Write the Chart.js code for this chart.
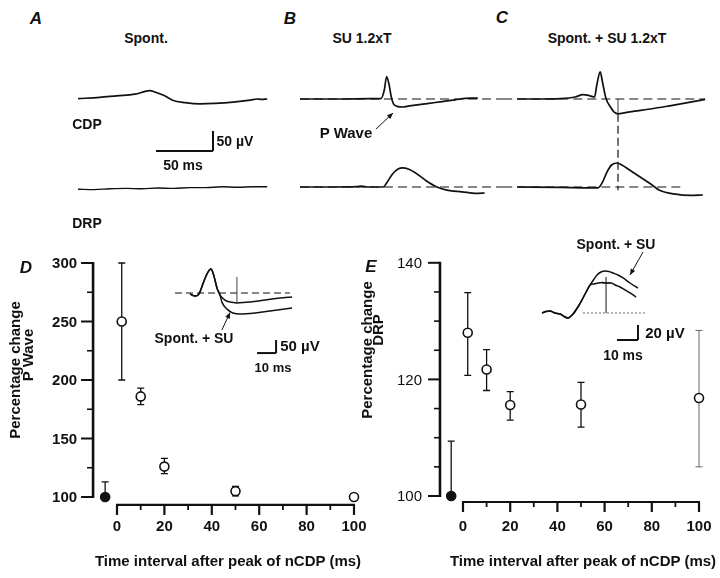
<!DOCTYPE html>
<html>
<head>
<meta charset="utf-8">
<script src="https://cdn.jsdelivr.net/npm/chart.js@4.4.1/dist/chart.umd.min.js"></script>
<style>
  body { margin: 0; background: #fff; }
  #fig { position: relative; width: 720px; height: 578px; overflow: hidden;
         font-family: "Liberation Sans", Arial, Helvetica, sans-serif; font-weight: bold; color: #111; }
  #fig canvas { position: absolute; }
  .lbl { position: absolute; white-space: nowrap; line-height: 1; transform: translate(-50%, -50%); }
</style>
</head>
<body>
<div id="fig"></div>
<script>
// ---- A/B/C traces: time (ms) vs amplitude (µV) ----
const aCdpT = [0, 19, 34, 50, 59, 63, 68, 76, 83, 94, 107, 120, 136, 151, 157, 161, 166];
const aCdpV = [1, 4, 8, 12, 19, 21, 17, 8, -3, -9, -12, -11, -8, -3, 0, -1, 0];
const aDrpT = [0, 14, 28, 42, 56, 70, 84, 98, 112, 126, 140, 154, 166];
const aDrpV = [-3, -4, -2, -1, -2, 0, -1, 1, 1, 3, 2, 3, 3];

const bCdpT = [0, 35, 61, 71, 74, 76, 78, 80, 82, 86, 90, 96, 110, 123, 136, 149, 156];
const bCdpV = [0, 0, 1, 1, 23, 56, 38, 6, -12, -19, -20, -17, -12, -7, -2, 2, 2];
const bDrpT = [0, 28, 50, 54, 59, 73, 76, 81, 86, 90, 95, 103, 111, 120, 129, 142, 155, 162];
const bDrpV = [0, 0, 1, 2, 0, 0, 10, 32, 45, 48, 45, 32, 15, 0, -8, -12, -16, -15];

const cCdpT = [0, 20, 38, 51, 58, 64, 68, 70, 73, 75, 78, 82, 85, 89, 99, 117, 134, 152, 165];
const cCdpV = [0, 0, 1, 5, 11, 8, 5, 35, 68, 42, 2, -20, -32, -37, -32, -25, -17, -8, -1];
const cDrpT = [0, 38, 64, 71, 75, 79, 83, 88, 92, 99, 108, 117, 125, 139, 152, 163];
const cDrpV = [0, -1, -2, -2, 12, 38, 55, 60, 55, 42, 25, 8, -8, -18, -21, -20];
const cPeakT = 88.6;

// ---- D: P wave, % change ----
const dX = [-5, 2, 10, 20, 50, 100];
const dY = [100, 250, 186, 126, 105, 100];
const dLo = [100, 200, 179, 120, 101, 100];
const dHi = [113, 300, 193, 133, 109, 100];
const dYTicks = [100, 150, 200, 250, 300];
const dXTicks = [0, 20, 40, 60, 80, 100];

// ---- E: DRP, % change ----
const eX = [-5, 2, 10, 20, 50, 100];
const eY = [100, 128, 121.7, 115.6, 115.7, 116.8];
const eLo = [100, 120.7, 118.1, 113, 111.8, 105];
const eHi = [109.4, 134.9, 125.1, 117.9, 119.5, 128.4];
const eYTicks = [100, 120, 140];
const eXTicks = [0, 20, 40, 60, 80, 100];

// ---- insets (ms, µV) ----
const dInsT = [0, 2.6, 4.7, 6.8, 8.9, 11.1, 12.6, 14.2, 15.8, 18.4, 21.1, 24.7, 31.6, 39.5, 47.4, 53.7];
const dInsCtl = [-4, -12, -4, 35, 73, 92, 65, 19, -8, -27, -35, -38, -35, -27, -19, -15];
const dInsT2 = [0, 2.6, 4.7, 6.8, 8.9, 11.1, 12.6, 14.2, 15.8, 16.8, 19.5, 22.6, 26.3, 34.2, 42.1, 53.7];
const dInsCond = [-4, -12, -4, 35, 73, 92, 65, 19, -8, -35, -62, -77, -81, -77, -69, -58];

const eInsT = [0, 1.9, 3.8, 6.2, 8.6, 11, 12.4, 14.8, 17.1, 19, 21, 22.9, 24.8, 26.2, 28.1, 30, 31.9, 33.8, 36.2, 38.6, 41.9, 45.7];
const eInsCond = [0, 2, 2.7, 0, -1.3, -5.3, -6.7, -1.3, 8, 17.3, 28, 37.3, 45.3, 50.7, 54.7, 56, 55.3, 53.3, 50.7, 46.7, 40, 33.3];
const eInsT2 = [0, 1.9, 3.8, 6.2, 8.6, 11, 12.4, 14.8, 17.1, 19, 21, 22.9, 24.8, 26.7, 28.6, 31, 32.9, 34.8, 37.1, 39.5, 41.9, 44.8];
const eInsCtl = [0, 2, 2.7, 0, -1.3, -5.3, -6.7, -1.3, 8, 17.3, 28, 37.3, 38.7, 40, 40.7, 40, 40, 37.3, 34.7, 30.7, 26.7, 21.3];

const INK = '#111';
const FONT = '"Liberation Sans", Arial, Helvetica, sans-serif';
const fig = document.getElementById('fig');

function zip(T, V) { return T.map((t, i) => ({ x: t, y: V[i] })); }

// scale ranges so that value zeroVal sits at page pixel zeroPx
function xAxis(box, zeroPx, k, zeroVal = 0) {
  return { type: 'linear', display: false,
    min: zeroVal + (box.left - zeroPx) / k, max: zeroVal + (box.left + box.width - zeroPx) / k };
}
function yAxis(box, zeroPx, k, zeroVal = 0) {
  return { type: 'linear', display: false,
    min: zeroVal - (box.top + box.height - zeroPx) / k, max: zeroVal + (zeroPx - box.top) / k };
}

function trace(T, V, yId, extra) {
  return Object.assign({ data: zip(T, V), yAxisID: yId, xAxisID: 'x', borderColor: INK, borderWidth: 1.7,
    pointRadius: 0, cubicInterpolationMode: 'monotone' }, extra || {});
}
function baseline(t0, t1, yId, extra) {
  return Object.assign({ data: [{ x: t0, y: 0 }, { x: t1, y: 0 }], yAxisID: yId, xAxisID: 'x', borderColor: INK,
    borderWidth: 1.2, borderDash: [9, 5], pointRadius: 0 }, extra || {});
}

function P(x, y, xa, ya) { return { x, y, xa: xa || 'x', ya: ya || 'y' }; }

// detached axes with outward ticks, as straight segments in data units (kx, ky: px per unit)
function axisSegments(f, kx, ky) {
  const yT = f.yTicks, xT = f.xTicks, out = [];
  out.push({ a: P(f.yAt, yT[0] - 1 / ky), b: P(f.yAt, yT[yT.length - 1] + 1 / ky), width: 2.6 });
  out.push({ a: P(xT[0] - 1 / kx, f.xAt), b: P(xT[xT.length - 1] + 1 / kx, f.xAt), width: 2.2 });
  for (let v = yT[0]; v <= yT[yT.length - 1] + 1e-9; v += f.yMinor) {
    const major = yT.indexOf(Math.round(v)) >= 0;
    out.push({ a: P(f.yAt - (major ? 12 : 6) / kx, v), b: P(f.yAt, v), width: major ? 2 : 1.6 });
  }
  for (let v = xT[0]; v <= xT[xT.length - 1] + 1e-9; v += f.xMinor) {
    const major = xT.indexOf(Math.round(v)) >= 0;
    out.push({ a: P(v, f.xAt), b: P(v, f.xAt - (major ? 10 : 5) / ky), width: major ? 2.2 : 1.8 });
  }
  return out;
}

// straight segments/arrows drawn through the chart scales
function makeGuides(items) {
  return {
    id: 'guides',
    afterDraw(chart) {
      const ctx = chart.ctx;
      const pix = p => [chart.scales[p.xa].getPixelForValue(p.x), chart.scales[p.ya].getPixelForValue(p.y)];
      items.forEach(g => {
        const a = pix(g.a), b = pix(g.b);
        ctx.save();
        ctx.strokeStyle = g.color || INK; ctx.fillStyle = g.color || INK;
        ctx.lineWidth = g.width || 1; ctx.setLineDash(g.dash || []);
        ctx.beginPath(); ctx.moveTo(a[0], a[1]); ctx.lineTo(b[0], b[1]); ctx.stroke();
        if (g.head) {
          const ang = Math.atan2(b[1] - a[1], b[0] - a[0]);
          ctx.setLineDash([]);
          ctx.beginPath();
          ctx.moveTo(b[0], b[1]);
          ctx.lineTo(b[0] - 6 * Math.cos(ang) + 2.5 * Math.sin(ang), b[1] - 6 * Math.sin(ang) - 2.5 * Math.cos(ang));
          ctx.lineTo(b[0] - 6 * Math.cos(ang) - 2.5 * Math.sin(ang), b[1] - 6 * Math.sin(ang) + 2.5 * Math.cos(ang));
          ctx.closePath(); ctx.fill();
        }
        ctx.restore();
      });
    }
  };
}

// tick labels for the detached axes
function makeTickLabels(f) {
  return {
    id: 'ticklabels',
    afterDraw(chart) {
      const ctx = chart.ctx, xs = chart.scales.x, ys = chart.scales.y;
      const ax = xs.getPixelForValue(f.yAt), ay = ys.getPixelForValue(f.xAt);
      ctx.save();
      ctx.fillStyle = INK;
      ctx.font = f.yFont; ctx.textAlign = 'right'; ctx.textBaseline = 'middle';
      f.yTicks.forEach(v => ctx.fillText(String(v), ax - f.yGap, ys.getPixelForValue(v) + 1));
      ctx.font = f.xFont; ctx.textAlign = 'center';
      f.xTicks.forEach(v => ctx.fillText(String(v), xs.getPixelForValue(v), ay + f.xGap));
      ctx.restore();
    }
  };
}

function makeErrBars(X, lo, hi, colors, widths) {
  return {
    id: 'errbars',
    beforeDatasetsDraw(chart) {
      const ctx = chart.ctx, xs = chart.scales.x, ys = chart.scales.y;
      X.forEach((x, i) => {
        if (hi[i] === lo[i]) return;
        const px = xs.getPixelForValue(x), y1 = ys.getPixelForValue(lo[i]), y2 = ys.getPixelForValue(hi[i]);
        ctx.save();
        ctx.strokeStyle = colors[i]; ctx.lineWidth = widths[i];
        ctx.beginPath();
        ctx.moveTo(px, y1); ctx.lineTo(px, y2);
        ctx.moveTo(px - 3.5, y2); ctx.lineTo(px + 3.5, y2);
        ctx.moveTo(px - 3.5, y1); ctx.lineTo(px + 3.5, y1);
        ctx.stroke();
        ctx.restore();
      });
    }
  };
}

function makeChart(box, datasets, scales, plugins) {
  const c = document.createElement('canvas');
  c.width = box.width; c.height = box.height;
  c.style.left = box.left + 'px'; c.style.top = box.top + 'px';
  fig.appendChild(c);
  return new Chart(c.getContext('2d'), {
    type: 'line',
    data: { datasets },
    options: {
      responsive: false, animation: false, devicePixelRatio: 1, events: [],
      layout: { padding: 0, autoPadding: false },
      plugins: { legend: { display: false }, tooltip: { enabled: false } },
      scales
    },
    plugins: plugins || []
  });
}

// ---------- panel A ----------
const boxA = { left: 60, top: 50, width: 230, height: 165 };
const barA = { t: 68.4, v: -130 };
makeChart(boxA,
  [trace(aCdpT, aCdpV, 'cdp'), trace(aDrpT, aDrpV, 'drp', { borderWidth: 1.4 })],
  { x: xAxis(boxA, 78, 1.14), cdp: yAxis(boxA, 99, 0.4), drp: yAxis(boxA, 188, 0.4) },
  [makeGuides([
    { a: P(barA.t, barA.v, 'x', 'cdp'), b: P(barA.t + 50, barA.v, 'x', 'cdp'), width: 2 },
    { a: P(barA.t + 50, barA.v, 'x', 'cdp'), b: P(barA.t + 50, barA.v + 50, 'x', 'cdp'), width: 2 }
  ])]);

// ---------- panel B ----------
const boxB = { left: 290, top: 50, width: 215, height: 165 };
makeChart(boxB,
  [baseline(0, 200, 'cdp'), baseline(0, 200, 'drp'), trace(bCdpT, bCdpV, 'cdp'), trace(bDrpT, bDrpV, 'drp')],
  { x: xAxis(boxB, 300, 1.14), cdp: yAxis(boxB, 99, 0.4), drp: yAxis(boxB, 187, 0.4) },
  [makeGuides([
    { a: P(66.7, -75, 'x', 'cdp'), b: P(81.6, -35, 'x', 'cdp'), width: 1, head: true }
  ])]);

// ---------- panel C ----------
const boxC = { left: 505, top: 50, width: 215, height: 165 };
makeChart(boxC,
  [baseline(-12, 165, 'cdp'), baseline(-12, 147, 'drp'), trace(cCdpT, cCdpV, 'cdp'), trace(cDrpT, cDrpV, 'drp')],
  { x: xAxis(boxC, 517, 1.14), cdp: yAxis(boxC, 99, 0.4), drp: yAxis(boxC, 187, 0.4) },
  [makeGuides([
    { a: P(cPeakT, 0, 'x', 'cdp'), b: P(cPeakT, -37, 'x', 'cdp'), width: 0.8 },
    { a: P(cPeakT, -37, 'x', 'cdp'), b: P(cPeakT, -8, 'x', 'drp'), width: 1.2, dash: [8, 4] }
  ])]);

// ---------- panel D ----------
const boxD = { left: 0, top: 250, width: 375, height: 328 };
const frameD = { yAt: -10.1, xAt: 93.2, yTicks: dYTicks, yMinor: 25, xTicks: dXTicks, xMinor: 10,
  yFont: 'bold 15px ' + FONT, xFont: 'bold 15px ' + FONT, yGap: 16, xGap: 22 };
makeChart(boxD,
  [
    { data: zip(dX, dY), showLine: false, pointRadius: 4.5, pointBorderWidth: 1.6, pointBorderColor: INK,
      pointBackgroundColor: dX.map((x, i) => i === 0 ? INK : '#fff'), xAxisID: 'x', yAxisID: 'y' },
    baseline(-7.9, 52.6, 'iy', { xAxisID: 'ix', borderDash: [7, 4], borderWidth: 1.1 }),
    trace(dInsT, dInsCtl, 'iy', { xAxisID: 'ix', borderWidth: 1.5 }),
    trace(dInsT2, dInsCond, 'iy', { xAxisID: 'ix', borderWidth: 1.5 })
  ],
  { x: xAxis(boxD, 117, 2.37), y: yAxis(boxD, 497, 1.17, 100),
    ix: xAxis(boxD, 190, 1.9), iy: yAxis(boxD, 293, 0.26) },
  [
    makeErrBars(dX, dLo, dHi, dX.map(() => INK), dX.map(() => 1.3)),
    makeTickLabels(frameD),
    makeGuides(axisSegments(frameD, 2.37, 1.17).concat([
      { a: P(24.7, 61.5, 'ix', 'iy'), b: P(24.7, -38.5, 'ix', 'iy'), width: 0.8 },
      { a: P(16.8, -142, 'ix', 'iy'), b: P(21.1, -75, 'ix', 'iy'), width: 1, head: true },
      { a: P(35.3, -231, 'ix', 'iy'), b: P(45.3, -231, 'ix', 'iy'), width: 2 },
      { a: P(45.3, -231, 'ix', 'iy'), b: P(45.3, -181, 'ix', 'iy'), width: 2 }
    ]))
  ]);

// ---------- panel E ----------
const boxE = { left: 355, top: 250, width: 365, height: 328 };
const frameE = { yAt: -9.75, xAt: 98.97, yTicks: eYTicks, yMinor: 5, xTicks: eXTicks, xMinor: 10,
  yFont: '15px ' + FONT, xFont: 'bold 15px ' + FONT, yGap: 18, xGap: 25 };
makeChart(boxE,
  [
    { data: zip(eX, eY), showLine: false, pointRadius: 4.5, pointBorderWidth: 1.6, pointBorderColor: INK,
      pointBackgroundColor: eX.map((x, i) => i === 0 ? INK : '#fff'), xAxisID: 'x', yAxisID: 'y' },
    baseline(19.5, 49, 'iy', { xAxisID: 'ix', borderDash: [2, 2], borderWidth: 1, borderColor: '#666' }),
    trace(eInsT, eInsCond, 'iy', { xAxisID: 'ix', borderWidth: 1.5 }),
    trace(eInsT2, eInsCtl, 'iy', { xAxisID: 'ix', borderWidth: 1.5 })
  ],
  { x: xAxis(boxE, 463, 2.36), y: yAxis(boxE, 496, 5.83, 100),
    ix: xAxis(boxE, 542, 2.1), iy: yAxis(boxE, 313, 0.75) },
  [
    makeErrBars(eX, eLo, eHi, eX.map((x, i) => i === 5 ? '#666' : INK), eX.map((x, i) => i === 5 ? 1 : 1.3)),
    makeTickLabels(frameE),
    makeGuides(axisSegments(frameE, 2.36, 5.83).concat([
      { a: P(30.5, 0, 'ix', 'iy'), b: P(30.5, 48, 'ix', 'iy'), width: 1 },
      { a: P(28.5, 40, 'ix', 'iy'), b: P(32.5, 40, 'ix', 'iy'), width: 1 },
      { a: P(48.1, 81.3, 'ix', 'iy'), b: P(41.9, 50.7, 'ix', 'iy'), width: 1, head: true },
      { a: P(35.7, -36, 'ix', 'iy'), b: P(45.7, -36, 'ix', 'iy'), width: 2 },
      { a: P(45.7, -36, 'ix', 'iy'), b: P(45.7, -16, 'ix', 'iy'), width: 2 }
    ]))
  ]);

// ---------- text ----------
const labels = [
  ['A', 36, 18, 17, 'italic'], ['B', 290, 18, 17, 'italic'], ['C', 502, 17, 17, 'italic'],
  ['D', 26, 267, 17, 'italic'], ['E', 371, 266, 17, 'italic'],
  ['Spont.', 146, 38, 14], ['SU 1.2xT', 362, 38, 14], ['Spont. + SU 1.2xT', 607, 38, 14],
  ['CDP', 87, 124, 14], ['DRP', 87, 223, 14],
  ['50 \u00b5V', 235, 141, 14], ['50 ms', 183, 165, 14],
  ['P Wave', 346, 132, 15],
  ['Spont. + SU', 194, 338, 14], ['50 \u00b5V', 300, 345, 15], ['10 ms', 273, 367, 13],
  ['Spont. + SU', 616, 244, 14], ['20 \u00b5V', 665, 332, 15], ['10 ms', 623, 355, 14],
  ['Time interval after peak of nCDP (ms)', 228, 560, 15],
  ['Time interval after peak of nCDP (ms)', 583, 560, 15],
  ['Percentage change', 14, 370, 15, 'rot'], ['P Wave', 27, 355, 15, 'rot'],
  ['Percentage change', 366, 350, 15, 'rot'], ['DRP', 377, 330, 15, 'rot']
];
labels.forEach(([text, x, y, size, kind]) => {
  const d = document.createElement('div');
  d.className = 'lbl';
  d.textContent = text;
  d.style.left = x + 'px'; d.style.top = y + 'px'; d.style.fontSize = size + 'px';
  if (kind === 'italic') d.style.fontStyle = 'italic';
  if (kind === 'rot') d.style.transform = 'translate(-50%, -50%) rotate(-90deg)';
  fig.appendChild(d);
});
</script>
</body>
</html>
